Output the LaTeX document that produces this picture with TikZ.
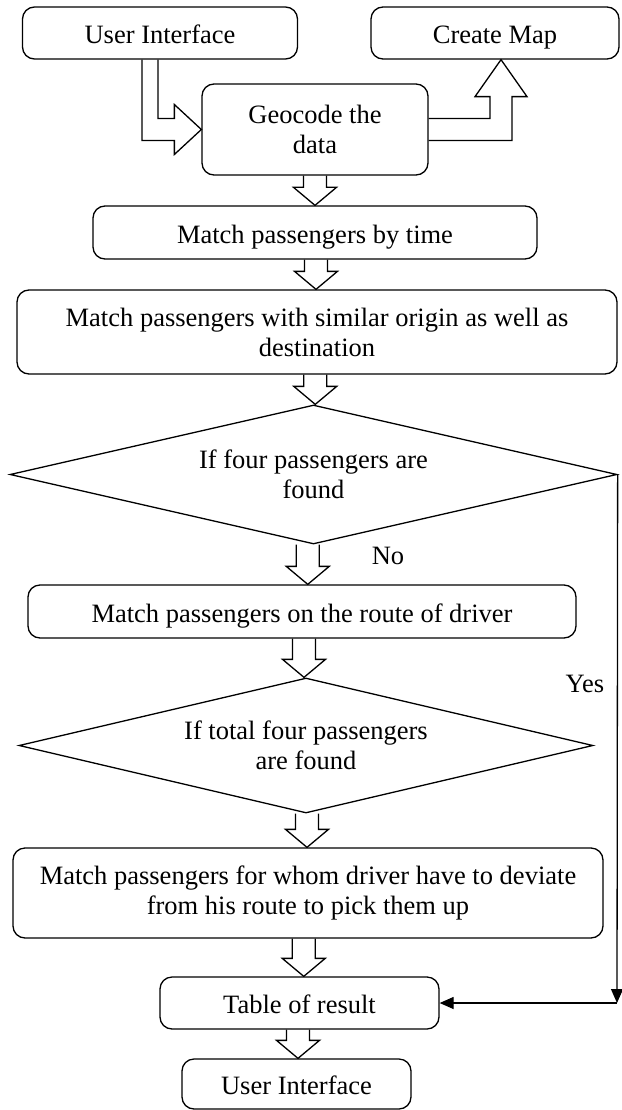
\documentclass[tikz,border=0pt]{standalone}
\usepackage{fontspec}
\setmainfont{Liberation Serif}
\usetikzlibrary{shapes.geometric,calc,arrows.meta}

% hollow block arrow straight down from one node to the next
\newcommand{\fatdown}[2]{%
  \draw[fat] let \p1=(#1.south), \p2=(#2.north), \p3=($(\p1)!.5!(\p2)$) in
    (\x3-11.5pt,\y1) -- (\x3-11.5pt,\y2+18pt) -- (\x3-21.5pt,\y2+18pt) -- (\x3,\y2)
    -- (\x3+21.5pt,\y2+18pt) -- (\x3+11.5pt,\y2+18pt) -- (\x3+11.5pt,\y1);}

\begin{document}
\begin{tikzpicture}[x=1pt,y=-1pt,line width=1.3pt,
  font=\fontsize{26.5}{30}\selectfont,
  box/.style={draw,rounded corners=12pt,align=center,inner sep=0pt},
  oneline/.style={text height=21pt,text depth=0pt},
  cond/.style={draw,diamond,align=center,inner sep=0pt,aspect=4.3},
  fat/.style={line width=1.3pt,line join=miter},
  yesline/.style={-{Triangle[length=14pt,width=12pt]}}]
\useasboundingbox (0,0) rectangle (621,1110);

\node[box,oneline,minimum width=275pt,minimum height=52pt] (ui1) at (160,33) {User Interface};
\node[box,oneline,minimum width=248pt,minimum height=52pt] (map) at (495,33) {Create Map};
\node[box,minimum width=226pt,minimum height=91pt] (geo) at (315,129.5) {Geocode the\\data};
\node[box,oneline,minimum width=444pt,minimum height=53pt] (time) at (315,232.5) {Match passengers by time};
\node[box,minimum width=600pt,minimum height=84pt] (simil) at (317,332) {Match passengers with similar origin as well as\\destination};
\node[cond,minimum width=607pt,minimum height=139pt] (four) at (313.5,474.5) {If four passengers are\\found};
\node[box,oneline,minimum width=548pt,minimum height=53pt] (route) at (302,611.5) {Match passengers on the route of driver};
\node[cond,minimum width=574pt,minimum height=135pt] (total) at (306,745.5) {If total four passengers\\are found};
\node[box,minimum width=590pt,minimum height=90pt] (dev) at (308,893) {Match passengers for whom driver have to deviate\\from his route to pick them up};
\node[box,oneline,minimum width=279pt,minimum height=52pt] (table) at (299.5,1003) {Table of result};
\node[box,oneline,minimum width=229pt,minimum height=50pt] (ui2) at (296.5,1084) {User Interface};

\node (no) at (388,556) {No};
\node (yes) at (585,684) {Yes};
\coordinate (corner) at (617,1003);

% L-shaped block arrows at the top
\draw[fat] let \p1=(ui1.south), \p2=(geo.west) in
  (\x1-18pt,\y1) -- (\x1-18pt,\y2-11pt) -- (\x2-27pt,\y2-11pt) -- (\x2-27pt,\y2-25pt)
  -- (\x2,\y2) -- (\x2-27pt,\y2+25pt) -- (\x2-27pt,\y2+11pt) -- (\x1-2pt,\y2+11pt) -- (\x1-2pt,\y1);
\draw[fat] let \p1=(geo.east), \p2=(map.south) in
  (\x1,\y1+11pt) -- (\x2-5pt,\y1+11pt) -- (\x2-5pt,\y2-37pt) -- (\x2-20pt,\y2-37pt)
  -- (\x2+6pt,\y2) -- (\x2+32pt,\y2-37pt) -- (\x2+17pt,\y2-37pt) -- (\x2+17pt,\y1-11pt) -- (\x1,\y1-11pt);

\fatdown{geo}{time}
\fatdown{time}{simil}
\fatdown{simil}{four}
\fatdown{four}{route}
\fatdown{route}{total}
\fatdown{total}{dev}
\fatdown{dev}{table}
\fatdown{table}{ui2}

\draw[yesline] (four.east) -- (corner);
\draw[yesline] (corner) -- (table.east);
\end{tikzpicture}
\end{document}
